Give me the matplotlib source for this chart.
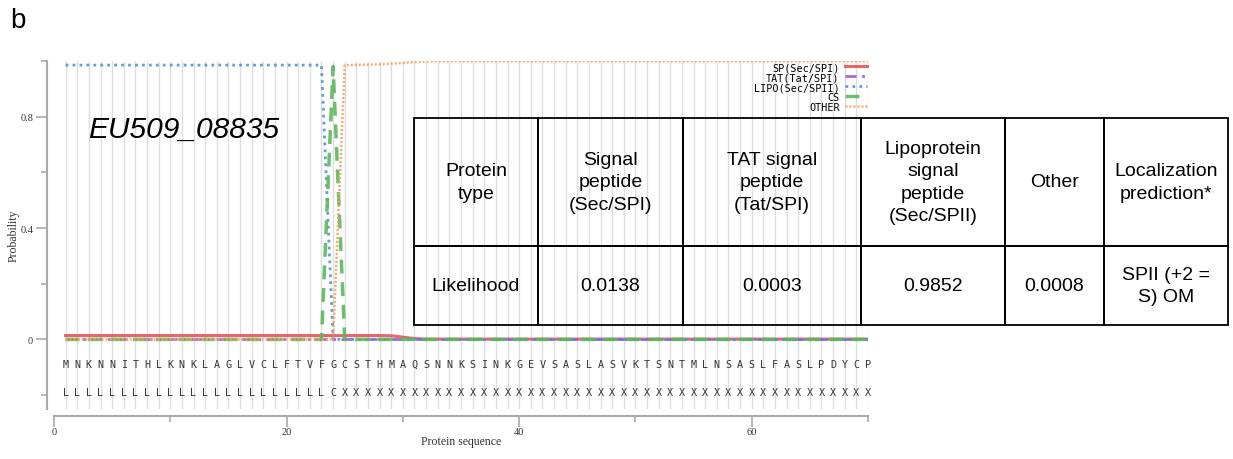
import matplotlib
matplotlib.use('Agg')
import matplotlib.pyplot as plt
import numpy as np

# per-residue probabilities, positions 1..70
sequence = 'MNKNNITHLKNKLAGLVCLFTVFGCSTHMAQSNNKSINKGEVSASLASVKTSNTMLNSASLFASLPDYCP'
labels = 'L' * 23 + 'C' + 'X' * 46

sp = [0.0138] * 28 + [0.013, 0.008, 0.003] + [0.001] * 39
tat = [0.0003] * 70
lipo = [0.9852] * 23 + [0.0] * 47
cs = [0.0] * 23 + [0.98] + [0.0] * 46
other = ([0.0] * 24 + [0.985, 0.986, 0.987, 0.988, 0.99, 0.993, 0.996, 0.998]
         + [0.999] * 38)

series = [
    ('SP(Sec/SPI)', sp, '#e8545a', '-', 2.2),
    ('TAT(Tat/SPI)', tat, '#a05cc8', (0, (4, 2, 1, 2)), 2.0),
    ('LIPO(Sec/SPII)', lipo, '#4f93e0', (0, (1, 1.5)), 2.0),
    ('CS', cs, '#5cb85c', (0, (4, 2.5)), 2.5),
    ('OTHER', other, '#f9a25a', (0, (0.8, 0.8)), 1.8),
]

# table contents
header = ['Protein\ntype', 'Signal\npeptide\n(Sec/SPI)', 'TAT signal\npeptide\n(Tat/SPI)',
          'Lipoprotein\nsignal\npeptide\n(Sec/SPII)', 'Other', 'Localization\nprediction*']
values = ['Likelihood', '0.0138', '0.0003', '0.9852', '0.0008', 'SPII (+2 =\nS) OM']
col_w = [124, 145, 178, 144, 99, 124]
row_h = [128, 79]

W, H = 1233, 460
fig = plt.figure(figsize=(W / 100, H / 100), dpi=100)
ax = fig.add_axes([54 / W, 50 / H, 814 / W, 348 / H])

pos = np.arange(1, len(sequence) + 1)
ax.vlines(pos, -0.25, 1.0, color='#dedede', lw=1, zorder=0)

for name, y, c, ls, lw in series:
    ax.plot(pos, y, color=c, ls=ls, lw=lw, label=name, alpha=0.9)

for x, aa, lab in zip(pos, sequence, labels):
    ax.text(x, -0.088, aa, ha='center', va='center', family='DejaVu Sans Mono',
            fontsize=7.3, color='#333333')
    ax.text(x, -0.189, lab, ha='center', va='center', family='DejaVu Sans Mono',
            fontsize=7.3, color='#333333')

ax.set_xlim(0, 70)
ax.set_ylim(-0.25, 1.0)
for s in ['top', 'right']:
    ax.spines[s].set_visible(False)
ax.spines['left'].set_position(('outward', 5))
ax.spines['bottom'].set_position(('outward', 5))
for s in ['left', 'bottom']:
    ax.spines[s].set_color('#aaaaaa')
    ax.spines[s].set_linewidth(1.5)
ax.spines['bottom'].set_bounds(0, 70)

ax.set_yticks([0, 0.4, 0.8])
ax.set_yticklabels(['0', '0.4', '0.8'])
ax.set_yticks([-0.2, 0.2, 0.6, 1.0], minor=True)
ax.set_xticks([0, 20, 40, 60])
ax.set_xticks([10, 30, 50, 70], minor=True)
ax.tick_params(which='major', length=8, width=1.2, color='#aaaaaa', pad=2,
               labelsize=7.5, labelcolor='#333333')
ax.tick_params(axis='x', which='major', pad=0)
ax.tick_params(which='minor', length=4, width=1.2, color='#aaaaaa')
for t in ax.get_xticklabels() + ax.get_yticklabels():
    t.set_family('Liberation Serif')

ax.set_ylabel('Probability', family='Liberation Serif', fontsize=8.5, color='#333333')
ax.yaxis.set_label_coords(-0.042, 0.5)
ax.set_xlabel('Protein sequence', family='Liberation Serif', fontsize=8.5, color='#333333')
ax.xaxis.set_label_coords(0.5, -0.075)

ax.legend(loc='upper right', bbox_to_anchor=(1.0, 1.0), markerfirst=False, frameon=False,
          prop={'family': 'DejaVu Sans Mono', 'size': 7.3}, handlelength=2.2,
          labelspacing=0.0, borderaxespad=0, borderpad=0.1, handletextpad=0.5)

fig.text(10 / W, 1 - 21 / H, 'b', fontsize=20, va='center', family='Liberation Sans')
fig.text(88 / W, 1 - 130 / H, 'EU509_08835', fontsize=21.5, style='italic', va='center',
         family='Liberation Sans')

tax = fig.add_axes([414 / W, (H - 326) / H, 814 / W, 207 / H])
tax.axis('off')
tab = tax.table(cellText=[header, values], cellLoc='center', bbox=[0, 0, 1, 1])
tab.auto_set_font_size(False)
for (r, c), cell in tab.get_celld().items():
    cell.set_width(col_w[c] / sum(col_w))
    cell.set_height(row_h[r] / sum(row_h))
    cell.set_facecolor('none')
    cell.set_edgecolor('black')
    cell.set_linewidth(1.3)
    txt = cell.get_text()
    txt.set_fontsize(14)
    txt.set_family('Liberation Sans')
    txt.set_linespacing(1.4)

fig.savefig('out.png', dpi=100)
